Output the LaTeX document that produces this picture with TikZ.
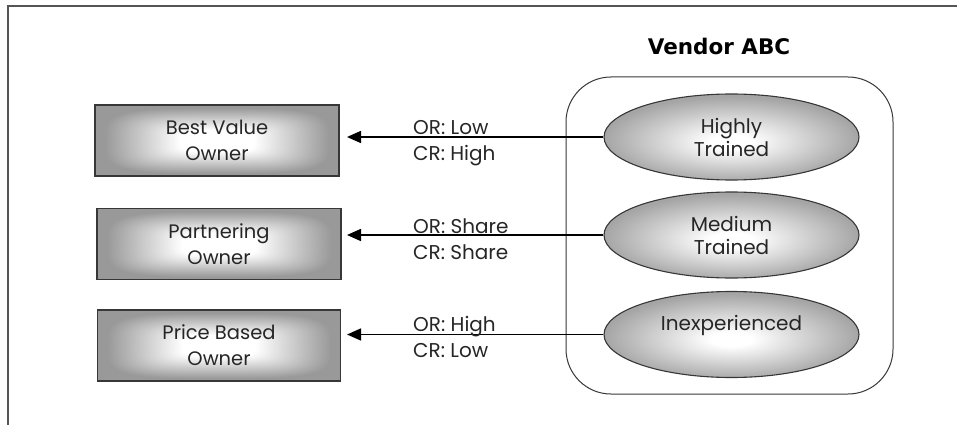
\documentclass[tikz,border=0pt]{standalone}
\usepackage{fontspec}
\setmainfont{Poppins}
\newfontfamily\titlefont{DejaVu Sans}
\usetikzlibrary{shapes.geometric,arrows.meta}
\definecolor{framegray}{RGB}{85,85,85}
\definecolor{edgegray}{RGB}{55,55,55}
\definecolor{ellgray}{RGB}{165,165,165}
\pgfdeclarefunctionalshading{boxshade}{\pgfpoint{-50bp}{-50bp}}{\pgfpoint{50bp}{50bp}}{}{
  dup mul dup mul exch dup mul dup mul add sqrt sqrt 25 div
  0.3 sub 0.62 div
  dup 0 lt {pop 0} if
  dup 1 gt {pop 1} if
  0.40 mul 1 exch sub
  dup dup
}
\pgfdeclareradialshading{ellshade}{\pgfpoint{0bp}{-3bp}}{color(0bp)=(white); color(4bp)=(white); color(25bp)=(ellgray); color(50bp)=(ellgray)}
\tikzset{
  ownerbox/.style={draw=edgegray, line width=1.2pt, shading=boxshade,
    minimum width=243pt, minimum height=71pt, align=center, font=\fontsize{19.5}{25.7}\selectfont, text=black!85},
  trainell/.style={ellipse, draw=edgegray, line width=1.1pt, shading=ellshade,
    minimum width=255pt, minimum height=86pt, inner sep=0pt, align=center, font=\fontsize{20}{23}\selectfont, text=black!85},
  linkarrow/.style={line width=1.6pt, -{Triangle[length=14pt,width=12pt]}},
  linklabel/.style={font=\fontsize{20}{22}\selectfont, text=black!85, inner sep=0pt}
}
\begin{document}
\begin{tikzpicture}[x=1pt,y=-1pt]
\useasboundingbox (0,0) rectangle (957,425);
\draw[framegray, line width=1.5pt] (8,425) -- (8,6) -- (957,6);
% vendor container
\node[draw=edgegray, line width=1pt, rounded corners=45pt, minimum width=327pt, minimum height=317pt] (vendor) at (729.5,235.5) {};
\node[font=\titlefont\bfseries\fontsize{21.5}{24}\selectfont, anchor=base] (title) at (719,55) {Vendor ABC};
% owners
\node[ownerbox, minimum width=244pt] (best) at (217,140.5) {Best Value\\Owner};
\node[ownerbox, minimum width=244pt] (part) at (219,244) {Partnering\\Owner};
\node[ownerbox, minimum width=243pt] (price) at (219,345.5) {Price Based\\Owner};
% ellipses
\node[trainell] (high) at (731.5,137) {Highly\\Trained};
\node[trainell] (med) at (731.5,235) {Medium\\Trained};
\node[trainell] (inex) at (731.5,334.5) {Inexperienced\\\mbox{}};
% connectors
\coordinate (t1) at (347,139);
\coordinate (t2) at (347,238);
\coordinate (t3) at (347,336);
\draw[linkarrow] (high.west) -- (high.west -| t1);
\draw[linkarrow] (med.west) -- (med.west -| t2);
\draw[linkarrow] (inex.west) -- (inex.west -| t3);
% labels
\node[linklabel, anchor=base west] (l1a) at (413,134) {OR: Low};
\node[linklabel, anchor=base west] (l1b) at (413,160) {CR: High};
\node[linklabel, anchor=base west] (l2a) at (413,233) {OR: Share};
\node[linklabel, anchor=base west] (l2b) at (413,259) {CR: Share};
\node[linklabel, anchor=base west] (l3a) at (413,331) {OR: High};
\node[linklabel, anchor=base west] (l3b) at (413,357) {CR: Low};
\end{tikzpicture}
\end{document}
